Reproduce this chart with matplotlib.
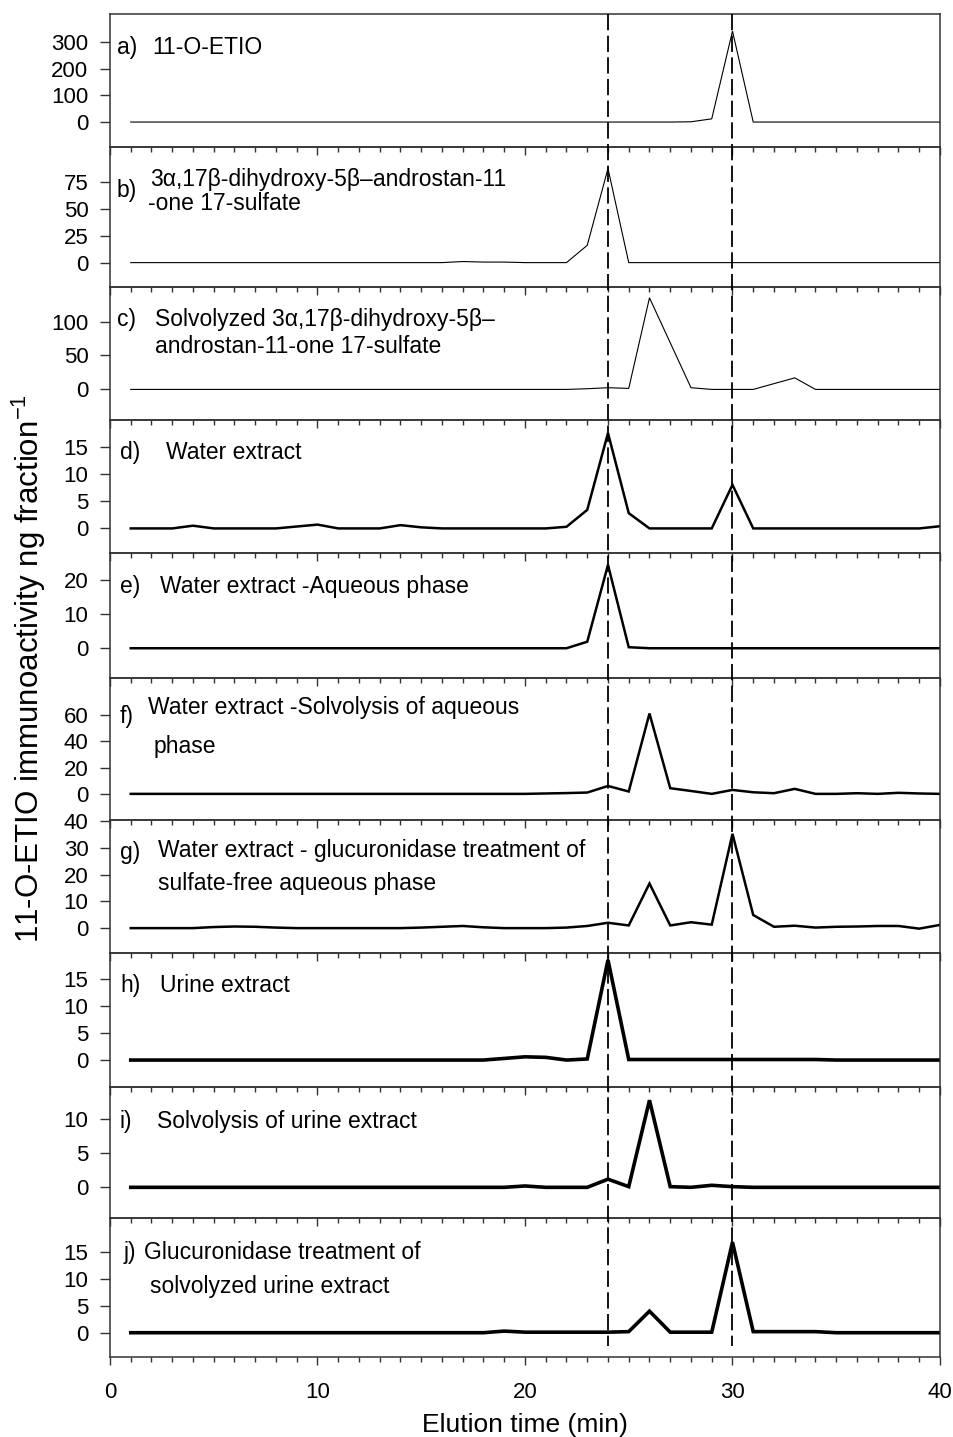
import matplotlib.pyplot as plt
import numpy as np
from matplotlib.lines import Line2D
from matplotlib.ticker import MultipleLocator

plt.rcParams['font.family'] = ['Liberation Sans', 'DejaVu Sans']
plt.rcParams['mathtext.default'] = 'regular'

# HPLC fractions (1 min each)
fractions = np.arange(1, 41)

# 11-O-ETIO immunoreactivity per fraction, one list per panel
etio_std = [0, 0, 0, 0, 0, 0, 0, 0, 0, 0, 0, 0, 0, 0, 0, 0, 0, 0, 0, 0,
            0, 0, 0, 0, 0, 0, 0, 1, 12, 340, 0, 0, 0, 0, 0, 0, 0, 0, 0, 0]
sulfate_std = [0, 0, 0, 0, 0, 0, 0, 0, 0, 0, 0, 0, 0, 0, 0, 0, 1, 0.5, 0.5, 0,
               0, 0, 16, 87, 0, 0, 0, 0, 0, 0, 0, 0, 0, 0, 0, 0, 0, 0, 0, 0]
# solvolyzed standard was not measured in every fraction
solv_fractions = [1, 22, 23, 24, 25, 26, 28, 29, 31, 33, 34, 40]
solv_std = [0, 0, 1, 2.5, 1.5, 135, 2.5, 0, 0, 17, 0, 0]
water = [0, 0, 0, 0.5, 0, 0, 0, 0, 0.35, 0.7, 0, 0, 0, 0.6, 0.2, 0, 0, 0, 0, 0,
         0, 0.3, 3.4, 17.5, 2.8, 0, 0, 0, 0, 8.0, 0, 0, 0, 0, 0, 0, 0, 0, 0, 0.4]
water_aq = [0, 0, 0, 0, 0, 0, 0, 0, 0, 0, 0, 0, 0, 0, 0, 0, 0, 0, 0, 0,
            0, 0, 1.9, 24.4, 0.3, 0, 0, 0, 0, 0, 0, 0, 0, 0, 0, 0, 0, 0, 0, 0]
water_solv = [0, 0, 0, 0, 0, 0, 0, 0, 0, 0, 0, 0, 0, 0, 0, 0, 0, 0, 0, 0,
              0.3, 0.6, 1.0, 6.0, 1.8, 61, 4.3, 2.2, 0, 3.0,
              1.2, 0.5, 3.8, 0, 0, 0.5, 0, 0.8, 0.3, 0]
water_gluc = [0, 0, 0, 0, 0.4, 0.6, 0.5, 0.2, 0, 0, 0, 0, 0, 0, 0.2, 0.5, 0.8, 0.3, 0, 0,
              0, 0.2, 0.8, 2.0, 1.0, 16.7, 1.0, 2.2, 1.3, 35.3,
              4.9, 0.5, 0.9, 0.2, 0.5, 0.6, 0.8, 0.8, -0.2, 1.2]
urine = [0, 0, 0, 0, 0, 0, 0, 0, 0, 0, 0, 0, 0, 0, 0, 0, 0, 0, 0.3, 0.6,
         0.5, 0, 0.2, 18.6, 0.1, 0.1, 0.1, 0.1, 0.1, 0.1,
         0.1, 0.1, 0.1, 0.1, 0, 0, 0, 0, 0, 0]
urine_solv = [0, 0, 0, 0, 0, 0, 0, 0, 0, 0, 0, 0, 0, 0, 0, 0, 0, 0, 0, 0.2,
              0, 0, 0, 1.2, 0.1, 12.8, 0.1, 0, 0.3, 0.1, 0, 0, 0, 0, 0, 0, 0, 0, 0, 0]
urine_gluc = [0, 0, 0, 0, 0, 0, 0, 0, 0, 0, 0, 0, 0, 0, 0, 0, 0, 0, 0.3, 0.1,
              0.1, 0.1, 0.1, 0.1, 0.2, 4.0, 0.1, 0.1, 0.1, 16.8,
              0.2, 0.2, 0.2, 0.2, 0, 0, 0, 0, 0, 0]

y_ticks = [[0, 100, 200, 300], [0, 25, 50, 75], [0, 50, 100], [0, 5, 10, 15],
           [0, 10, 20], [0, 20, 40, 60], [0, 10, 20, 30, 40], [0, 5, 10, 15],
           [0, 5, 10], [0, 5, 10, 15]]
y_limits = [(-93, 404), (-22.5, 107), (-45, 151), (-4.5, 19.9), (-8.7, 27.9),
            (-19.8, 88), (-9.3, 40.5), (-5, 19.9), (-4.5, 14.75), (-4.5, 21.3)]

# marker retention times (min)
ref_times = [24, 30]


def main():
    series = [(fractions, etio_std), (fractions, sulfate_std), (solv_fractions, solv_std),
              (fractions, water), (fractions, water_aq), (fractions, water_solv),
              (fractions, water_gluc), (fractions, urine), (fractions, urine_solv),
              (fractions, urine_gluc)]
    widths = [0.8, 0.8, 0.8, 1.8, 1.8, 1.8, 1.8, 2.6, 2.6, 2.6]

    # (text, x, y) in axes fraction for every panel
    labels = [
        [("a)", 0.008, 0.744), ("11-O-ETIO", 0.051, 0.744)],
        [("b)", 0.008, 0.686), ("3\u03b1,17\u03b2-dihydroxy-5\u03b2\u2013androstan-11", 0.048, 0.764),
         ("-one 17-sulfate", 0.046, 0.593)],
        [("c)", 0.008, 0.752), ("Solvolyzed 3\u03b1,17\u03b2-dihydroxy-5\u03b2\u2013", 0.054, 0.752),
         ("androstan-11-one 17-sulfate", 0.054, 0.549)],
        [("d)", 0.012, 0.752), ("Water extract", 0.0675, 0.752)],
        [("e)", 0.012, 0.728), ("Water extract -Aqueous phase", 0.060, 0.728)],
        [("f)", 0.012, 0.732), ("Water extract -Solvolysis of aqueous", 0.046, 0.789),
         ("phase", 0.053, 0.514)],
        [("g)", 0.012, 0.752), ("Water extract - glucuronidase treatment of", 0.058, 0.767),
         ("sulfate-free aqueous phase", 0.058, 0.519)],
        [("h)", 0.012, 0.754), ("Urine extract", 0.060, 0.754)],
        [("i)", 0.012, 0.733), ("Solvolysis of urine extract", 0.0566, 0.733)],
        [("j)", 0.016, 0.755), ("Glucuronidase treatment of", 0.041, 0.755),
         ("solvolyzed urine extract", 0.048, 0.51)],
    ]

    fig = plt.figure(figsize=(9.54, 14.37), dpi=100)
    gs = fig.add_gridspec(10, 1, height_ratios=[133, 140, 133, 133, 125, 142, 133, 134, 131, 139],
                          hspace=0, left=0.1153, right=0.9853, top=0.9903, bottom=0.0557)
    axes = []
    for k in range(10):
        ax = fig.add_subplot(gs[k])
        x, y = series[k]
        ax.plot(x, y, color='black', lw=widths[k], solid_joinstyle='miter')
        ax.set_xlim(0, 40)
        ax.set_ylim(*y_limits[k])
        ax.set_yticks(y_ticks[k])
        ax.xaxis.set_major_locator(MultipleLocator(10))
        ax.xaxis.set_minor_locator(MultipleLocator(1))
        ax.tick_params(axis='x', which='major', direction='out', length=6, width=1, color='#333333')
        ax.tick_params(axis='x', which='minor', direction='out', length=3.4, width=1, color='#333333')
        ax.tick_params(axis='y', direction='out', length=7, width=1, color='#333333',
                       labelsize=16, pad=8.5)
        ax.tick_params(axis='x', labelsize=16, pad=12)
        if k < 9:
            ax.tick_params(axis='x', labelbottom=False)
        for s in ax.spines.values():
            s.set_color('#333333')
            s.set_linewidth(1.1)
        # keep the ticks of the panel above visible
        ax.patch.set_visible(False)
        for txt, tx, ty in labels[k]:
            ax.text(tx, ty, txt, transform=ax.transAxes, fontsize=16.5, va='center', ha='left')
        axes.append(ax)

    axes[-1].set_xlabel("Elution time (min)", fontsize=19, labelpad=7)
    fig.text(0.03, 0.535, "11-O-ETIO immunoactivity ng fraction$^{-1}$", rotation=90,
             fontsize=22.5, va='center', ha='center')

    # dashed reference lines through all panels
    inv = fig.transFigure.inverted()
    for t in ref_times:
        x0, y0 = inv.transform(axes[0].transData.transform((t, y_limits[0][1])))
        x1, y1 = inv.transform(axes[-1].transData.transform((t, -2.5)))
        fig.add_artist(Line2D([x0, x1], [y0, y1], color='black', lw=1.3,
                              linestyle=(0, (9, 3))))

    fig.savefig("out.png", dpi=100, facecolor='white')


if __name__ == "__main__":
    main()
